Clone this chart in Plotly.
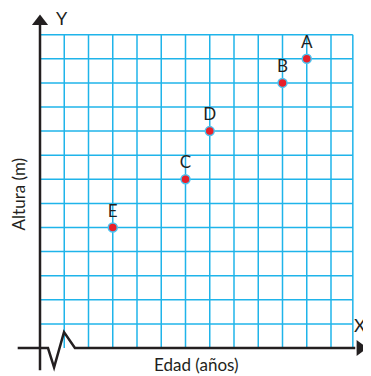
import plotly.graph_objects as go

# points (x = edad, y = altura)
point_names = ["A", "B", "D", "C", "E"]
edad = [11, 10, 7, 6, 3]
altura = [12, 11, 9, 7, 5]

# grid extent in data units
grid_cols = list(range(0, 13)) + [12.9]
grid_rows = list(range(1, 14))
grid_right = 12.9
grid_top = 13

GRID = "#1fb4ea"
INK = "#231f20"
FONT = "Lato, 'Open Sans', sans-serif"

fig = go.Figure()

shapes = []
# vertical grid lines
for c in grid_cols[1:]:
    shapes.append(dict(type="line", x0=c, x1=c, y0=0, y1=grid_top,
                       line=dict(color=GRID, width=1.5), layer="below"))
# horizontal grid lines
for r in grid_rows:
    shapes.append(dict(type="line", x0=0, x1=grid_right, y0=r, y1=r,
                       line=dict(color=GRID, width=1.5), layer="below"))

# y axis
shapes.append(dict(type="line", x0=0, x1=0, y0=-0.92, y1=13.4,
                   line=dict(color=INK, width=2.5)))
# x axis with the break zigzag
shapes.append(dict(type="path",
                   path="M -0.92,0 L 0.33,0 L 0.58,-0.8 L 0.99,0.66 L 1.44,0 L 13.0,0",
                   line=dict(color=INK, width=2.5)))
fig.update_layout(shapes=shapes)

# arrow heads
fig.add_trace(go.Scatter(x=[0], y=[13.55], mode="markers", hoverinfo="skip",
                         marker=dict(symbol="triangle-up", size=14, color=INK)))
fig.add_trace(go.Scatter(x=[13.2], y=[0], mode="markers", hoverinfo="skip",
                         marker=dict(symbol="triangle-right", size=14, color=INK)))

# points
fig.add_trace(go.Scatter(
    x=edad, y=altura, mode="markers+text",
    text=point_names, textposition="top center",
    textfont=dict(family=FONT, size=17, color=INK),
    marker=dict(size=9, color="#e8202a", line=dict(color="#4cc3f0", width=1.5)),
    hoverinfo="text",
))

fig.add_annotation(x=0.9, y=13.7, text="Y", showarrow=False,
                   font=dict(family=FONT, size=18, color=INK))
fig.add_annotation(x=12.85, y=0.95, text="X", showarrow=False, xanchor="left",
                   font=dict(family=FONT, size=18, color=INK))
fig.add_annotation(x=-0.88, y=6.4, text="Altura (m)", showarrow=False, textangle=-90,
                   font=dict(family=FONT, size=17, color=INK))
fig.add_annotation(x=6.45, y=-0.7, text="Edad (años)", showarrow=False,
                   font=dict(family=FONT, size=17, color=INK))

# the page body adds an 8px margin, so the figure is 8px smaller than the window
fig.update_xaxes(range=[-32 / 24.25, 331 / 24.25], visible=False, fixedrange=True)
fig.update_yaxes(range=[-28 / 24.1, 340 / 24.1], visible=False, fixedrange=True)
fig.update_layout(
    width=363, height=368,
    margin=dict(l=0, r=0, t=0, b=0),
    plot_bgcolor="white", paper_bgcolor="white",
    showlegend=False,
)

fig.write_html("out.html", config={"displayModeBar": False})
